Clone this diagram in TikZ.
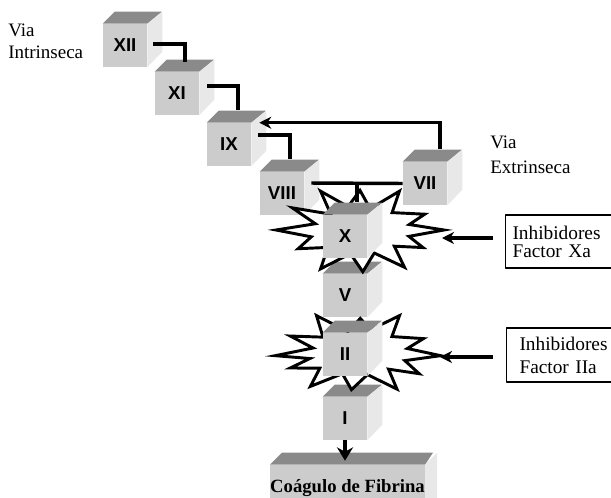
\documentclass[tikz,border=0pt]{standalone}
\usepackage{fontspec}
\setmainfont{Liberation Serif}
\setsansfont{Liberation Sans}
\usetikzlibrary{arrows.meta,positioning}
\definecolor{cubefront}{RGB}{204,204,204}
\definecolor{cubetop}{RGB}{138,138,138}
\definecolor{cubeside}{RGB}{232,232,232}
\tikzset{
  factor/.style={fill=cubefront, minimum width=33pt, minimum height=32.25pt, inner sep=0pt,
    font=\sffamily\bfseries\fontsize{14}{14}\selectfont},
  link/.style={line width=2.6pt, line cap=butt, line join=miter},
  burst/.style={line width=2.2pt, fill=white, line join=miter, miter limit=20},
  inhib/.style={draw, line width=0.8pt, align=left, anchor=west,
    font=\fontsize{14.5}{13.5}\selectfont},
  via/.style={align=left, inner sep=0pt},
}
% cube: front face is the node, top and side are filled after it
\newcommand\factorcube[3]{%
  \node[factor] (#1) at (#2) {#3};
  \fill[cubetop] (#1.north west) -- ++(12,-12) -- ++(47,0) -- (#1.north east) -- cycle;
  \fill[cubeside] (#1.north east) -- ++(15,-12) -- ++(0,40) -- (#1.south east) -- cycle;
}
\begin{document}
\begin{tikzpicture}[x=0.75pt, y=-0.75pt, line join=round, >={Stealth[length=9pt,width=9pt]}]
  \useasboundingbox (0,0) rectangle (611,497);
  \clip (0,0) rectangle (611,497);

  % intrinsic stair
  \factorcube{XII}{125,45.5}{XII}
  \factorcube{XI}{177,93.5}{XI}
  \factorcube{IX}{229,144.5}{IX}
  \factorcube{VIII}{282,193.5}{VIII}
  \factorcube{VII}{425,183.5}{VII}

  \draw[link] ([shift={(6,-1.5)}]XII.east) -| ([shift={(8,-10)}]XI.north);
  \draw[link] ([shift={(8,-7.5)}]XI.east) -| ([shift={(9,-13)}]IX.north);
  \draw[link] ([shift={(7,-9.5)}]IX.east) -| ([shift={(8,-13)}]VIII.north);
  \draw[link,->] ([shift={(15,-13)}]VII.north) |- ([shift={(8,0)}]IX.north east);

  % common path
  \factorcube{V}{345,295.5}{V}
  \factorcube{I}{345,418.5}{I}

  \node[fill=cubefront, minimum width=113.25pt, minimum height=34.5pt, inner sep=0pt,
    font=\bfseries\fontsize{14}{14}\selectfont] (clot) at (347.5,488) {Coágulo de Fibrina};
  \fill[cubetop] (clot.north west) -- ++(12,-12) -- ++(151,0) -- (clot.north east) -- cycle;
  \fill[cubeside] (clot.north east) -- ++(12,-12) -- ++(0,46) -- (clot.south east) -- cycle;

  \begin{scope}[shift={(360,230)}]
    \draw[burst] (-84,0) \foreach \a/\r in {195/0.55,212/0.95,226/0.5,242/1.0,255/0.55,270/0.9,284/0.5,
      298/1.0,314/0.55,335/0.85,348/0.6,0/1.0,14/0.6,28/0.85,42/0.55,58/1.0,72/0.55,88/0.95,
      102/0.55,118/1.0,134/0.55,150/0.85,165/0.6}{ -- ({84*\r*cos(\a)},{44*\r*sin(\a)}) } -- cycle;
  \end{scope}
  \factorcube{X}{345,236.5}{X}

  \draw[link] ([shift={(7,-10.5)}]VIII.east) -- (VII.west);
  \draw[link] ([shift={(12,0)}]VII.west -| X.north) -- ([shift={(12,-13)}]X.north);

  \begin{scope}[shift={(358,352)}]
    \draw[burst] ({83*cos(175)},{42*sin(175)}) \foreach \a/\r in {190/0.55,205/0.9,220/0.55,240/1.0,
      256/0.5,272/0.8,286/0.55,300/1.0,318/0.55,338/0.85,352/0.6,5/1.0,20/0.6,35/0.9,48/0.55,
      62/1.0,78/0.55,95/0.9,110/0.55,125/1.0,140/0.6,155/0.9,165/0.6}{ -- ({83*\r*cos(\a)},{42*\r*sin(\a)}) } -- cycle;
  \end{scope}
  \factorcube{II}{345,354.5}{II}

  \draw[link,-{Stealth[length=10pt,width=12pt]}] (I.south) -- ([shift={(0,-4)}]I.south |- clot.north);

  % labels and inhibitors
  \node[via, anchor=west, font=\fontsize{14.25}{16.5}\selectfont] (intr) at (8,41) {Via\\Intrinseca};
  \node[via, anchor=west, font=\fontsize{14.25}{18.75}\selectfont] (extr) at (490,154.5) {Via\\Extrinseca};

  \node[inhib, minimum height=39.75pt, inner xsep=5.25pt, text width=75pt] (inhXa) at (505,241.5)
    {Inhibidores\\Factor Xa};
  \node[inhib, minimum height=40.5pt, inner xsep=9.75pt, text width=75pt,
    font=\fontsize{14.5}{17.25}\selectfont] (inhIIa) at (506,355)
    {Inhibidores\\Factor IIa};

  \coordinate (Xtip) at (442,238);
  \coordinate (IItip) at (440,357);
  \draw[link,->] ([shift={(-12,-3.5)}]inhXa.west) -- (Xtip);
  \draw[link,->] ([shift={(-13,2)}]inhIIa.west) -- (IItip);
\end{tikzpicture}
\end{document}
